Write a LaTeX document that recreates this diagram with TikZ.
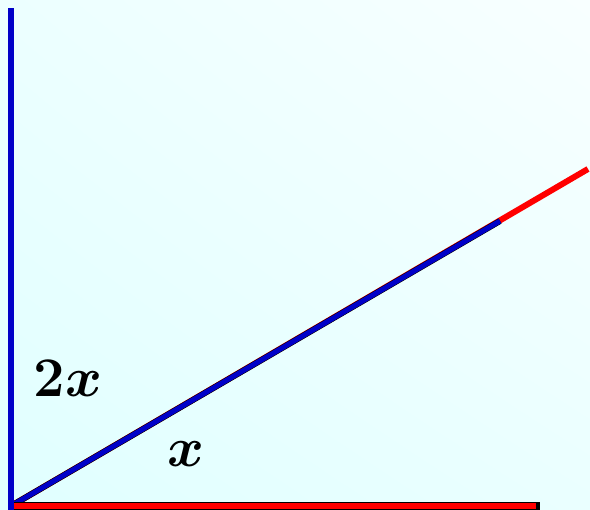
\documentclass[tikz,border=0pt]{standalone}
\usetikzlibrary{shadings}
\definecolor{bgll}{RGB}{224,255,255}
\definecolor{bgul}{RGB}{236,255,255}
\definecolor{bglr}{RGB}{234,255,255}
\definecolor{bgur}{RGB}{248,255,255}
\definecolor{lineblue}{RGB}{0,0,200}
\begin{document}
\begin{tikzpicture}[x=1pt,y=1pt,
  seg/.style={line width=6pt},
  lbl/.style={font=\Huge\boldmath, scale=2.25, inner sep=0pt}]
\useasboundingbox (0,0) rectangle (590,510);
\shade[lower left=bgll, upper left=bgul, lower right=bglr, upper right=bgur] (0,0) rectangle (590,510);
\coordinate (O) at (11,4);
\coordinate (A) at (11,502);
\coordinate (B) at (540,4);
\coordinate (Br) at (536,4);
\coordinate (C) at (588,341);
\coordinate (D) at (500,289);
% diagonal
\draw[seg, red] (O) -- (C);
\draw[seg, black] (O) -- (D);
\draw[line width=5pt, lineblue, shift={(0.8pt,-1.2pt)}] (O) -- (D);
% horizontal
\draw[line width=8pt, black] (O) -- (B);
\draw[line width=6.5pt, red] (O) -- (Br);
% vertical
\draw[seg, lineblue] ([yshift=-4pt]O) -- (A);
% labels
\node[lbl] (l2x) at (68,132) {$2x$};
\node[lbl] (lx) at (186,56) {$x$};
\end{tikzpicture}
\end{document}
